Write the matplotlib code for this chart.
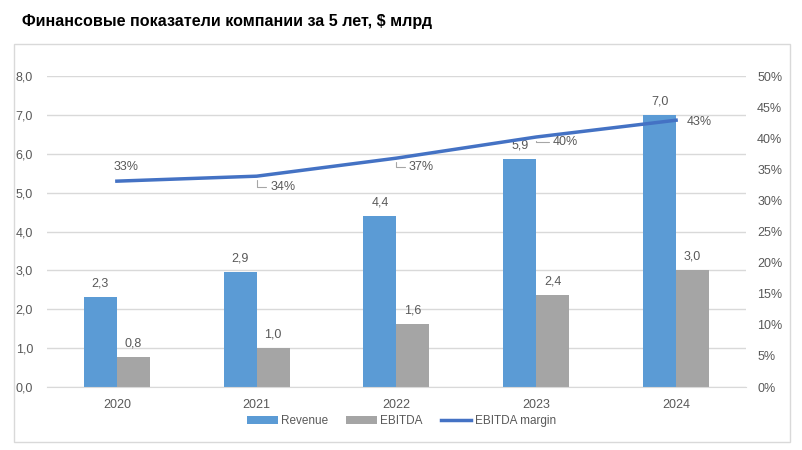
import matplotlib.pyplot as plt
import matplotlib.patches as patches
import numpy as np

plt.rcParams['font.family'] = ['Liberation Sans', 'DejaVu Sans']

years = ['2020', '2021', '2022', '2023', '2024']
revenue = [2.31, 2.96, 4.40, 5.86, 6.99]
ebitda = [0.77, 1.00, 1.62, 2.36, 3.00]
margin = [0.331, 0.339, 0.368, 0.402, 0.429]
rev_labels = ['2,3', '2,9', '4,4', '5,9', '7,0']
ebitda_labels = ['0,8', '1,0', '1,6', '2,4', '3,0']
margin_labels = ['33%', '34%', '37%', '40%', '43%']

blue = '#5B9BD5'
gray = '#A5A5A5'
line_blue = '#4472C4'
txt = '#595959'

fig = plt.figure(figsize=(8.03, 4.5), dpi=100)
# outer chart frame
fig.patches.append(patches.Rectangle((0.0174, 0.0178), 0.966, 0.884, transform=fig.transFigure,
                                     fill=False, edgecolor='#D9D9D9', linewidth=1))
fig.text(0.027, 0.952, 'Финансовые показатели компании за 5 лет, $ млрд',
         fontsize=11.6, fontweight='bold', color='black', va='center', ha='left')

ax = fig.add_axes([0.0585, 0.14, 0.8705, 0.691])
x = np.arange(len(years))
w = 0.236
ax.bar(x - w / 2, revenue, w, color=blue, label='Revenue', zorder=2)
ax.bar(x + w / 2, ebitda, w, color=gray, label='EBITDA', zorder=2)
for i in range(len(years)):
    ax.annotate(rev_labels[i], (x[i] - w / 2, revenue[i]), xytext=(0, 10), textcoords='offset points',
                ha='center', va='center', fontsize=9, color=txt)
    ax.annotate(ebitda_labels[i], (x[i] + w / 2, ebitda[i]), xytext=(0, 10), textcoords='offset points',
                ha='center', va='center', fontsize=9, color=txt)

ax.set_xlim(-0.5, 4.5)
ax.set_ylim(0, 8)
ax.set_yticks(np.arange(0, 9, 1))
ax.set_yticklabels([f'{v:.1f}'.replace('.', ',') for v in range(9)])
ax.set_xticks(x)
ax.set_xticklabels(years)
ax.tick_params(length=0, labelsize=9, colors=txt)
ax.tick_params(axis='x', pad=9)
ax.tick_params(axis='y', pad=10)
ax.grid(axis='y', color='#D9D9D9', linewidth=1, zorder=0)
for s in ['top', 'right', 'left']:
    ax.spines[s].set_visible(False)
ax.spines['bottom'].set_color('#D9D9D9')

ax2 = ax.twinx()
ax2.plot(x, margin, color=line_blue, linewidth=2.5, label='EBITDA margin', zorder=3)
ax2.set_ylim(0, 0.5)
ax2.set_yticks(np.arange(0, 0.51, 0.05))
ax2.set_yticklabels([f'{int(round(v * 100))}%' for v in np.arange(0, 0.51, 0.05)])
ax2.tick_params(length=0, labelsize=9, colors=txt, pad=8)
for s in ax2.spines.values():
    s.set_visible(False)

# margin labels, offsets in points; elbow leader lines for the middle three
offsets = [(6.5, 10), (19, -8), (18, -6.5), (21, -3.5), (17, -1.5)]
for i in range(len(years)):
    dx, dy = offsets[i]
    lead = dict(arrowstyle='-', color='#A6A6A6', lw=0.8, shrinkA=1, shrinkB=3,
                connectionstyle='angle,angleA=0,angleB=90,rad=0') if i in (1, 2, 3) else None
    ax2.annotate(margin_labels[i], (x[i], margin[i]), xytext=(dx, dy), textcoords='offset points',
                 ha='center', va='center', fontsize=9, color=txt, arrowprops=lead)

h1, l1 = ax.get_legend_handles_labels()
h2, l2 = ax2.get_legend_handles_labels()
fig.legend(h1 + h2, l1 + l2, loc='center', bbox_to_anchor=(0.5, 0.064), ncol=3, frameon=False,
           fontsize=8.5, labelcolor=txt, handlelength=2.6, handleheight=0.55, columnspacing=1.5,
           handletextpad=0.3)

fig.savefig('out.png', dpi=100)
